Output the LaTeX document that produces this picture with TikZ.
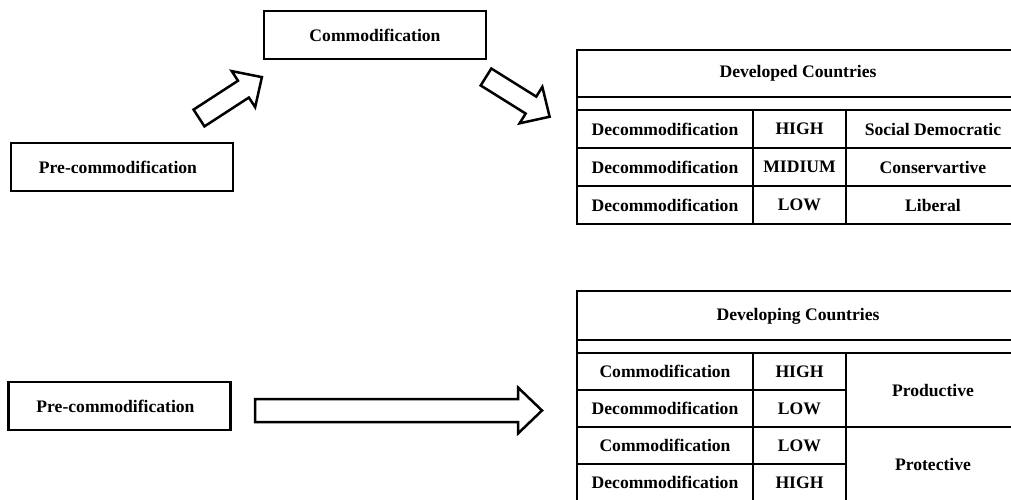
\documentclass[tikz,border=0pt]{standalone}
\usepackage{fontspec}
\setmainfont{Liberation Serif}
\begin{document}
\newcommand\blockarr[7]{%
  \draw[barrow, shift={(#1,#2)}, rotate=#3] (0,-#5/2) -- (#4-#7,-#5/2) -- (#4-#7,-#6/2) -- (#4,0)
      -- (#4-#7,#6/2) -- (#4-#7,#5/2) -- (0,#5/2) -- cycle;}
\begin{tikzpicture}[x=1pt,y=-1pt,
  txt/.style={font=\fontsize{17.6}{21}\selectfont\bfseries, inner sep=0pt},
  box/.style={txt, draw, line width=2.4pt, minimum width=222pt, minimum height=48pt},
  tline/.style={line width=2pt},
  barrow/.style={draw, line width=2.5pt, fill=white, line join=miter}]
\useasboundingbox (0,0) rectangle (1011,500);

% boxes
\node[box] (comm) at (375,35) {Commodification};
\node[box] (pre1) at (122,167) {\hspace*{-8pt}Pre-commodification};
\node[box] (pre2) at (119.5,406) {\hspace*{-8pt}Pre-commodification};

% block arrows
\blockarr{199}{118}{33}{75}{20}{43}{22}
\blockarr{486}{77}{-32}{75}{20}{43}{22}
\blockarr{255}{410.5}{0}{287}{23}{46}{24}

% top table
\draw[tline] (1011,50) -- (577,50) -- (577,224) -- (1011,224);
\foreach \yy in {97,110,148,186} \draw[tline] (577,\yy) -- (1011,\yy);
\foreach \xx in {753,846} \draw[tline] (\xx,110) -- (\xx,224);
\node[txt] (h1) at (798,73) {Developed Countries};
\node[txt] (a1) at (665,129) {Decommodification};
\node[txt] (a2) at (799.5,129) {HIGH};
\node[txt] (a3) at (933,129) {Social Democratic};
\node[txt] (b1) at (665,167) {Decommodification};
\node[txt] (b2) at (799.5,167) {MIDIUM};
\node[txt] (b3) at (933,167) {Conservartive};
\node[txt] (c1) at (665,205) {Decommodification};
\node[txt] (c2) at (799.5,205) {LOW};
\node[txt] (c3) at (933,205) {Liberal};

% bottom table
\draw[tline] (1011,291) -- (577,291) -- (577,500);
\foreach \yy in {340,353,427} \draw[tline] (577,\yy) -- (1011,\yy);
\foreach \yy in {390,464} \draw[tline] (577,\yy) -- (846,\yy);
\foreach \xx in {753,846} \draw[tline] (\xx,353) -- (\xx,500);
\node[txt] (h2) at (798,316) {Developing Countries};
\node[txt] (d1) at (665,371.5) {Commodification};
\node[txt] (d2) at (799.5,371.5) {HIGH};
\node[txt] (e1) at (665,408.5) {Decommodification};
\node[txt] (e2) at (799.5,408.5) {LOW};
\node[txt] (f1) at (665,445.5) {Commodification};
\node[txt] (f2) at (799.5,445.5) {LOW};
\node[txt] (g1) at (665,482.5) {Decommodification};
\node[txt] (g2) at (799.5,482.5) {HIGH};
\node[txt] (prod) at (933,390) {Productive};
\node[txt] (prot) at (933,464) {Protective};
\end{tikzpicture}
\end{document}
